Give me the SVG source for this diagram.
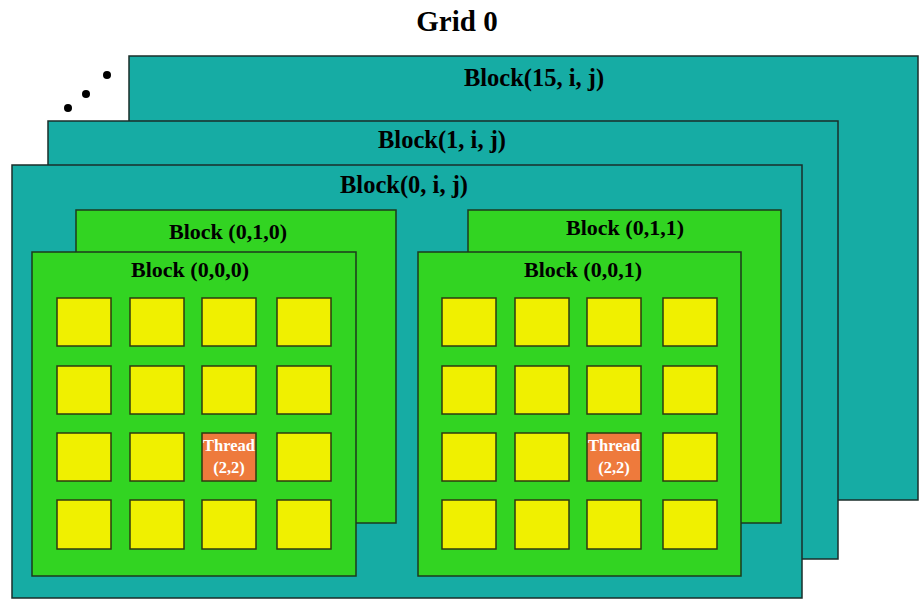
<svg xmlns="http://www.w3.org/2000/svg" width="919" height="601" viewBox="0 0 919 601">
<style>
.grid{fill:#16ACA4;stroke:#1a2e2a;stroke-width:1.5}
.blk{fill:#32D422;stroke:#1d3a1d;stroke-width:1.5}
.cell{fill:#F0F000;stroke:#2e3a10;stroke-width:1.5}
.thr{fill:#EE7A3C;stroke:#2e3a10;stroke-width:1.5}
.t{font-family:"Liberation Serif","Times New Roman",serif;font-weight:bold;fill:#000;text-anchor:middle}
.tt{font-family:"Liberation Serif","Times New Roman",serif;font-weight:bold;fill:#fff;text-anchor:middle;font-size:16.5px}
</style>
<rect width="919" height="601" fill="#fff"/>
<text class="t" x="457" y="31" font-size="29">Grid 0</text>
<g id="dots" fill="#000">
<circle cx="68" cy="108" r="4"/>
<circle cx="86" cy="94" r="4"/>
<circle cx="107" cy="75" r="4"/>
</g>
<g id="block15">
<rect class="grid" x="129" y="56" width="789" height="444"/>
<text class="t" x="534" y="86" font-size="24.5">Block(15, i, j)</text>
</g>
<g id="block1">
<rect class="grid" x="48" y="121" width="790" height="438"/>
<text class="t" x="442" y="148" font-size="24.5">Block(1, i, j)</text>
</g>
<g id="block0">
<rect class="grid" x="12" y="165" width="790" height="433"/>
<text class="t" x="404" y="193" font-size="24.5">Block(0, i, j)</text>
</g>
<g id="block010">
<rect class="blk" x="76" y="210" width="320" height="313"/>
<text class="t" x="228" y="239" font-size="22">Block (0,1,0)</text>
</g>
<g id="block011">
<rect class="blk" x="468" y="210" width="313" height="313"/>
<text class="t" x="625" y="235" font-size="22">Block (0,1,1)</text>
</g>
<g id="block000">
<rect class="blk" x="32" y="252" width="324" height="324"/>
<text class="t" x="190" y="277" font-size="22">Block (0,0,0)</text>
<g id="cells000">
<rect class="cell" x="57" y="298" width="54" height="48"/>
<rect class="cell" x="130" y="298" width="54" height="48"/>
<rect class="cell" x="202" y="298" width="54" height="48"/>
<rect class="cell" x="277" y="298" width="54" height="48"/>
<rect class="cell" x="57" y="366" width="54" height="48"/>
<rect class="cell" x="130" y="366" width="54" height="48"/>
<rect class="cell" x="202" y="366" width="54" height="48"/>
<rect class="cell" x="277" y="366" width="54" height="48"/>
<rect class="cell" x="57" y="433" width="54" height="48"/>
<rect class="cell" x="130" y="433" width="54" height="48"/>
<rect class="thr" x="202" y="433" width="54" height="48"/>
<rect class="cell" x="277" y="433" width="54" height="48"/>
<rect class="cell" x="57" y="500" width="54" height="49"/>
<rect class="cell" x="130" y="500" width="54" height="49"/>
<rect class="cell" x="202" y="500" width="54" height="49"/>
<rect class="cell" x="277" y="500" width="54" height="49"/>
<text class="tt" x="229" y="451">Thread</text>
<text class="tt" x="229" y="473">(2,2)</text>
</g>
</g>
<g id="block001">
<rect class="blk" x="418" y="252" width="323" height="324"/>
<text class="t" x="583" y="277" font-size="22">Block (0,0,1)</text>
<g id="cells001">
<rect class="cell" x="442" y="298" width="54" height="48"/>
<rect class="cell" x="515" y="298" width="54" height="48"/>
<rect class="cell" x="587" y="298" width="54" height="48"/>
<rect class="cell" x="663" y="298" width="54" height="48"/>
<rect class="cell" x="442" y="366" width="54" height="48"/>
<rect class="cell" x="515" y="366" width="54" height="48"/>
<rect class="cell" x="587" y="366" width="54" height="48"/>
<rect class="cell" x="663" y="366" width="54" height="48"/>
<rect class="cell" x="442" y="433" width="54" height="48"/>
<rect class="cell" x="515" y="433" width="54" height="48"/>
<rect class="thr" x="587" y="433" width="54" height="48"/>
<rect class="cell" x="663" y="433" width="54" height="48"/>
<rect class="cell" x="442" y="500" width="54" height="49"/>
<rect class="cell" x="515" y="500" width="54" height="49"/>
<rect class="cell" x="587" y="500" width="54" height="49"/>
<rect class="cell" x="663" y="500" width="54" height="49"/>
<text class="tt" x="614" y="451">Thread</text>
<text class="tt" x="614" y="473">(2,2)</text>
</g>
</g>
<g id="connectors"/>
</svg>
